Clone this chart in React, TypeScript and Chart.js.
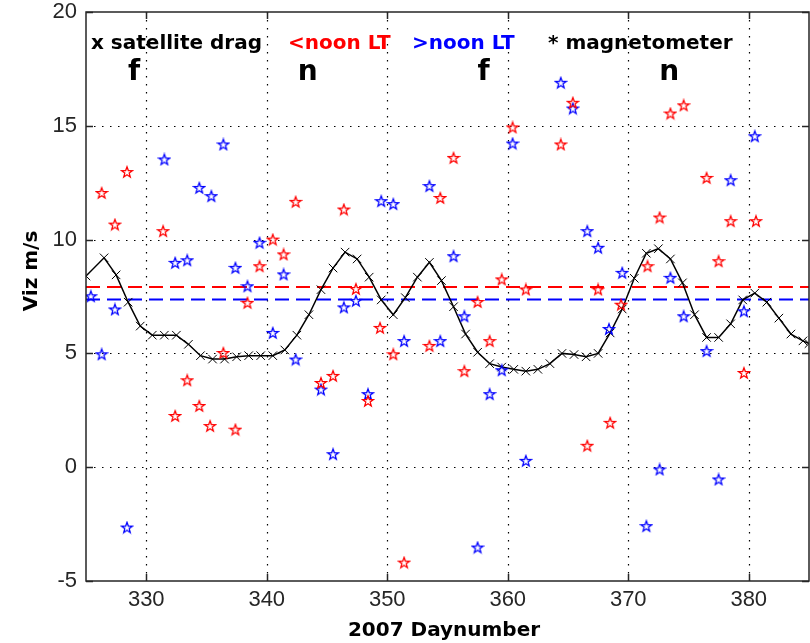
import React, { useEffect, useRef } from "react";
import { Chart, registerables } from "chart.js";

Chart.register(...registerables);

const xTickValues = [330, 340, 350, 360, 370, 380];
const yTickValues = [-5, 0, 5, 10, 15, 20];

const dragDays = [
  325.0, 326.5, 327.5, 328.5, 329.5, 330.5, 331.5, 332.5, 333.5, 334.5, 335.5,
  336.5, 337.5, 338.5, 339.5, 340.5, 341.5, 342.5, 343.5, 344.5, 345.5, 346.5,
  347.5, 348.5, 349.5, 350.5, 351.5, 352.5, 353.5, 354.5, 355.5, 356.5, 357.5,
  358.5, 359.5, 360.5, 361.5, 362.5, 363.5, 364.5, 365.5, 366.5, 367.5, 368.5,
  369.5, 370.5, 371.5, 372.5, 373.5, 374.5, 375.5, 376.5, 377.5, 378.5, 379.5,
  380.5, 381.5, 382.5, 383.5, 384.5, 385.0,
];
const dragValues = [
  8.4, 9.2, 8.45, 7.25, 6.2, 5.8, 5.8, 5.8, 5.4, 4.9, 4.75,
  4.75, 4.85, 4.9, 4.9, 4.9, 5.15, 5.8, 6.7, 7.8, 8.75, 9.45,
  9.15, 8.35, 7.35, 6.7, 7.45, 8.35, 9.0, 8.2, 7.05, 5.85, 5.05,
  4.55, 4.4, 4.3, 4.22, 4.3, 4.55, 5.0, 4.95, 4.85, 5.0, 5.9,
  6.95, 8.3, 9.4, 9.6, 9.15, 8.1, 6.7, 5.7, 5.7, 6.3, 7.35,
  7.65, 7.25, 6.55, 5.85, 5.55, 5.43,
];

const redDays = [
  326.3, 327.4, 328.4, 331.4, 332.4, 333.4, 334.4, 335.3, 336.4, 337.4, 338.4,
  339.4, 340.5, 341.4, 342.4, 344.5, 345.5, 346.4, 347.4, 348.4, 349.4, 350.5,
  351.4, 353.5, 354.4, 355.5, 356.4, 357.5, 358.5, 359.5, 360.4, 361.5, 364.4,
  365.4, 366.6, 367.5, 368.5, 369.4, 371.6, 372.6, 373.5, 374.6, 376.5, 377.5,
  378.5, 379.6, 380.6,
];
const redValues = [
  12.05, 10.66, 12.97, 10.37, 2.25, 3.82, 2.69, 1.81, 5.02, 1.65, 7.22,
  8.83, 10.0, 9.35, 11.66, 3.7, 4.01, 11.32, 7.83, 2.91, 6.12, 4.96,
  -4.19, 5.33, 11.83, 13.59, 4.22, 7.26, 5.54, 8.25, 14.93, 7.81, 14.18,
  16.01, 0.94, 7.81, 1.95, 7.14, 8.83, 10.97, 15.54, 15.9, 12.71, 9.05,
  10.81, 4.14, 10.81,
];

const blueDays = [
  325.4, 326.3, 327.4, 328.4, 331.5, 332.4, 333.4, 334.4, 335.4, 336.4, 337.4,
  338.4, 339.4, 340.5, 341.4, 342.4, 344.5, 345.5, 346.4, 347.4, 348.4, 349.5,
  350.5, 351.4, 353.5, 354.4, 355.5, 356.4, 357.5, 358.5, 359.5, 360.4, 361.5,
  364.4, 365.4, 366.6, 367.5, 368.4, 369.5, 371.5, 372.6, 373.5, 374.6, 376.5,
  377.5, 378.5, 379.6, 380.5,
];
const blueValues = [
  7.51, 4.96, 6.93, -2.65, 13.52, 8.98, 9.09, 12.27, 11.91, 14.18, 8.76,
  7.95, 9.86, 5.9, 8.47, 4.73, 3.41, 0.57, 7.02, 7.31, 3.21, 11.69,
  11.56, 5.54, 12.35, 5.54, 9.27, 6.63, -3.53, 3.21, 4.26, 14.22, 0.28,
  16.89, 15.76, 10.37, 9.64, 6.07, 8.54, -2.59, -0.1, 8.32, 6.63, 5.1,
  -0.54, 12.61, 6.85, 14.54,
];

const redMean = 7.92;
const blueMean = 7.37;

const headerLabels = ["x satellite drag", "<noon LT", ">noon LT", "* magnetometer"];
const headerColors = ["#000000", "#ff0000", "#0000ff", "#000000"];
const phaseLabels = ["f", "n", "f", "n"];
const phaseDays = [329.0, 343.4, 358.0, 373.4];

const X_MIN = 325;
const X_MAX = 385;
const Y_MIN = -5;
const Y_MAX = 20;

function makeStar(color: string): HTMLCanvasElement {
  const c = document.createElement("canvas");
  c.width = 14;
  c.height = 14;
  const ctx = c.getContext("2d")!;
  ctx.strokeStyle = color;
  ctx.lineWidth = 1.3;
  ctx.lineJoin = "miter";
  ctx.beginPath();
  const R = 5.6;
  const r = 2.3;
  for (let i = 0; i < 10; i++) {
    const ang = -Math.PI / 2 + (i * Math.PI) / 5;
    const rad = i % 2 === 0 ? R : r;
    const px = 7 + rad * Math.cos(ang);
    const py = 7.4 + rad * Math.sin(ang);
    if (i === 0) ctx.moveTo(px, py);
    else ctx.lineTo(px, py);
  }
  ctx.closePath();
  ctx.stroke();
  return c;
}

const decorPlugin = {
  id: "decor",
  beforeDatasetsDraw(chart: any) {
    const { ctx, chartArea: a, scales } = chart;
    const x = scales.x;
    const y = scales.y;
    ctx.save();
    ctx.strokeStyle = "#000";
    ctx.lineWidth = 1.2;
    ctx.setLineDash([1.5, 6.5]);
    for (const v of xTickValues) {
      const px = Math.round(x.getPixelForValue(v)) + 0.5;
      ctx.beginPath();
      ctx.moveTo(px, a.top);
      ctx.lineTo(px, a.bottom);
      ctx.stroke();
    }
    for (const v of yTickValues) {
      if (v === Y_MIN || v === Y_MAX) continue;
      const py = Math.round(y.getPixelForValue(v)) + 0.5;
      ctx.beginPath();
      ctx.moveTo(a.left, py);
      ctx.lineTo(a.right, py);
      ctx.stroke();
    }
    ctx.restore();
  },
  afterDraw(chart: any) {
    const { ctx, chartArea: a, scales } = chart;
    const x = scales.x;
    const y = scales.y;
    ctx.save();
    ctx.setLineDash([]);
    ctx.strokeStyle = "#262626";
    ctx.lineWidth = 1.5;
    ctx.strokeRect(a.left, a.top, a.right - a.left, a.bottom - a.top);
    const tl = 7;
    for (const v of xTickValues) {
      const px = Math.round(x.getPixelForValue(v)) + 0.5;
      ctx.beginPath();
      ctx.moveTo(px, a.bottom);
      ctx.lineTo(px, a.bottom - tl);
      ctx.moveTo(px, a.top);
      ctx.lineTo(px, a.top + tl);
      ctx.stroke();
    }
    for (const v of yTickValues) {
      const py = Math.round(y.getPixelForValue(v)) + 0.5;
      ctx.beginPath();
      ctx.moveTo(a.left, py);
      ctx.lineTo(a.left + tl, py);
      ctx.moveTo(a.right, py);
      ctx.lineTo(a.right - tl, py);
      ctx.stroke();
    }

    // header labels
    ctx.font = "bold 20px 'DejaVu Sans'";
    ctx.textBaseline = "alphabetic";
    ctx.textAlign = "left";
    const headerX = [91, 288, 412, 548];
    headerLabels.forEach((t, i) => {
      ctx.fillStyle = headerColors[i];
      ctx.fillText(t, headerX[i], 49);
    });

    // phase labels
    ctx.font = "bold 28px 'DejaVu Sans'";
    ctx.textAlign = "center";
    ctx.fillStyle = "#000";
    phaseLabels.forEach((t, i) => {
      ctx.fillText(t, x.getPixelForValue(phaseDays[i]), 80);
    });

    // axis titles
    ctx.font = "bold 20px 'DejaVu Sans'";
    ctx.fillStyle = "#000";
    ctx.textAlign = "center";
    ctx.fillText("2007 Daynumber", 444, 636);
    ctx.save();
    ctx.translate(37, 271);
    ctx.rotate(-Math.PI / 2);
    ctx.fillText("Viz m/s", 0, 0);
    ctx.restore();

    ctx.restore();
  },
};

export default function App() {
  const canvasRef = useRef<HTMLCanvasElement | null>(null);

  useEffect(() => {
    document.body.style.margin = "0";
    document.body.style.overflow = "hidden";
    const canvas = canvasRef.current;
    if (!canvas) return;
    const redStar = makeStar("#ff0000");
    const blueStar = makeStar("#0000ff");

    const chart = new Chart(canvas, {
      type: "scatter",
      data: {
        datasets: [
          {
            label: "<noon LT",
            data: redDays.map((d, i) => ({ x: d, y: redValues[i] })),
            pointStyle: redStar as any,
            pointRadius: 6,
            showLine: false,
          },
          {
            label: ">noon LT",
            data: blueDays.map((d, i) => ({ x: d, y: blueValues[i] })),
            pointStyle: blueStar as any,
            pointRadius: 6,
            showLine: false,
          },
          {
            type: "line",
            label: "satellite drag",
            data: dragDays.map((d, i) => ({ x: d, y: dragValues[i] })),
            borderColor: "#000",
            borderWidth: 1.5,
            pointStyle: "crossRot",
            pointRadius: 6,
            pointBorderColor: "#000",
            pointBorderWidth: 1,
            fill: false,
            tension: 0,
          },
          {
            type: "line",
            label: "red mean",
            data: [
              { x: X_MIN, y: redMean },
              { x: X_MAX, y: redMean },
            ],
            borderColor: "#ff0000",
            borderWidth: 2,
            borderDash: [14, 7],
            pointRadius: 0,
            fill: false,
          },
          {
            type: "line",
            label: "blue mean",
            data: [
              { x: X_MIN, y: blueMean },
              { x: X_MAX, y: blueMean },
            ],
            borderColor: "#0000ff",
            borderWidth: 2,
            borderDash: [14, 7],
            pointRadius: 0,
            fill: false,
          },
        ] as any,
      },
      options: {
        animation: false,
        responsive: false,
        maintainAspectRatio: false,
        layout: { autoPadding: false, padding: { top: 12, right: 1, left: 0, bottom: 0 } },
        plugins: {
          legend: { display: false },
          tooltip: { enabled: false },
        },
        scales: {
          x: {
            type: "linear",
            min: X_MIN,
            max: X_MAX,
            afterBuildTicks: (s: any) => {
              s.ticks = xTickValues.map((v) => ({ value: v }));
            },
            afterFit: (s: any) => {
              s.height = 62;
              s.paddingLeft = 0;
              s.paddingRight = 0;
            },
            grid: { display: false, drawTicks: false },
            border: { display: false },
            ticks: {
              padding: 6,
              color: "#262626",
              font: { family: "'Liberation Sans'", size: 22 },
              maxRotation: 0,
              autoSkip: false,
            },
          },
          y: {
            type: "linear",
            min: Y_MIN,
            max: Y_MAX,
            afterBuildTicks: (s: any) => {
              s.ticks = yTickValues.map((v) => ({ value: v }));
            },
            afterFit: (s: any) => {
              s.width = 86;
              s.paddingTop = 0;
              s.paddingBottom = 0;
            },
            grid: { display: false, drawTicks: false },
            border: { display: false },
            ticks: {
              padding: 9,
              color: "#262626",
              font: { family: "'Liberation Sans'", size: 22 },
              autoSkip: false,
            },
          },
        },
      },
      plugins: [decorPlugin],
    });
    return () => chart.destroy();
  }, []);

  return (
    <div style={{ width: 810, height: 643 }}>
      <canvas ref={canvasRef} width={810} height={643} style={{ display: "block" }} />
    </div>
  );
}
